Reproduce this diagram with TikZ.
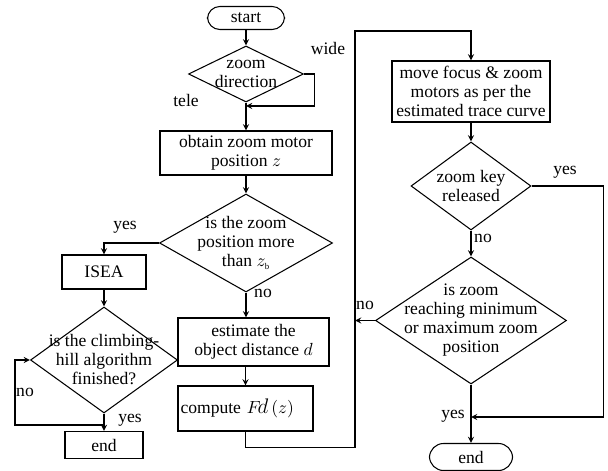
\documentclass[tikz,border=0pt]{standalone}
\usepackage{amsmath, amssymb}
\usepackage{fontspec}
\setmainfont{Liberation Serif}
\usetikzlibrary{shapes.geometric, positioning}

\begin{document}
\begin{tikzpicture}[
		% Process boxes
		procbox/.style={
			rectangle,
			draw,
			semithick,
			align=center,
			font=\fontsize{10}{10.8}\selectfont,
			inner sep=1pt
		},
		% Start / end boxes
		termbox/.style={
			procbox,
			rounded corners=7pt
		},
		% Decisions (fixed size, text may touch the border)
		decision/.style={
			diamond,
			draw,
			semithick,
			align=center,
			font=\fontsize{10}{10.8}\selectfont,
			inner sep=-6mm
		},
		% Connectors
		flowarrow/.style={
			->,
			>=stealth,
			semithick
		},
		% Branch labels
		labelstyle/.style={
			font=\fontsize{10}{10.8}\selectfont,
			inner sep=1pt
		}
		]
		\useasboundingbox (0,0) rectangle (12.16,-9.42);
		
		% --- MAIN COLUMN ---
		\node[termbox, minimum width=1.54cm, minimum height=0.46cm] (start) at (4.92,-0.36) {start};
		\node[decision, minimum width=2.3cm, minimum height=1.12cm] (dir) at (4.92,-1.48) {zoom\\direction};
		\node[procbox, minimum width=3.44cm, minimum height=0.88cm] (obtain) at (4.92,-3.06) {obtain zoom motor\\position $z$};
		\node[decision, minimum width=3.46cm, minimum height=1.96cm] (pos) at (4.92,-4.86) {is the zoom\\position more\\than $z_{\scriptscriptstyle\mathrm{b}}$};
		\node[procbox, minimum width=3.02cm, minimum height=0.96cm] (estim) at (5.07,-6.84) {estimate the\\object distance $d$};
		\node[procbox, minimum width=2.7cm, minimum height=0.9cm, text width=2.6cm, align=left] (comp) at (4.91,-8.17) {compute $F\!\text{\large$d$}\,(z)$};
		
		% --- LEFT COLUMN ---
		\node[procbox, minimum width=1.68cm, minimum height=0.68cm] (isea) at (2.08,-5.44) {ISEA};
		\node[decision, minimum width=2.94cm, minimum height=2.12cm] (climb) at (2.08,-7.2) {is the climbing-\\hill algorithm\\finished?};
		\node[procbox, minimum width=1.56cm, minimum height=0.54cm] (end1) at (2.08,-8.9) {end};
		
		% --- RIGHT COLUMN ---
		\node[procbox, minimum width=3.16cm, minimum height=1.22cm] (move) at (9.42,-1.83) {move focus \& zoom\\motors as per the\\estimated trace curve};
		\node[decision, minimum width=2.4cm, minimum height=1.76cm] (key) at (9.42,-3.72) {zoom key\\released};
		\node[decision, minimum width=3.82cm, minimum height=2.54cm] (reach) at (9.42,-6.41) {is zoom\\reaching minimum\\or maximum zoom\\position};
		\node[termbox, minimum width=1.66cm, minimum height=0.54cm, rounded corners=8pt] (end2) at (9.42,-9.14) {end};
		
		% --- JOINING POINTS ---
		\coordinate (tj) at (4.92,-2.12);
		\coordinate (cj) at (2.08,-8.5);
		\coordinate (rt) at (7.1,-0.62);
		\coordinate (yj) at (9.42,-8.34);
		
		% --- CONNECTORS ---
		\draw[flowarrow] (start) -- (dir);
		\draw[flowarrow] (dir.east) -- ++(0.2,0) |- (tj);
		\draw[flowarrow] (dir) -- (obtain);
		\draw[flowarrow] (obtain) -- (pos);
		\draw[flowarrow] (pos.west) -| (isea.north);
		\draw[flowarrow] (pos.south) -- (pos.south |- estim.north);
		\draw[flowarrow] (comp.north |- estim.south) -- (comp.north);
		\draw[flowarrow] (isea) -- (climb);
		\draw[flowarrow] (climb) -- (end1);
		\draw[flowarrow] (cj) -- ++(-1.78,0) |- (climb.west);
		\draw[flowarrow] (comp.south) -- ++(0,-0.32) -| (rt) -| (move.north);
		\draw[flowarrow] (move) -- (key);
		\draw[flowarrow] (key) -- (reach);
		\draw[flowarrow] (key.east) -- ++(1.44,0) |- (yj);
		\draw[flowarrow] (reach.west) -- (reach.west -| rt);
		\draw[flowarrow] (reach) -- (end2);
		
		% --- BRANCH LABELS ---
		\node[labelstyle] (lwide) at (6.56,-0.96) {wide};
		\node[labelstyle] (ltele) at (3.72,-2.0) {tele};
		\node[labelstyle] (lposy) at (2.5,-4.54) {yes};
		\node[labelstyle] (lposn) at (5.26,-5.86) {no};
		\node[labelstyle] (lclin) at (0.5,-7.84) {no};
		\node[labelstyle] (lcliy) at (2.6,-8.4) {yes};
		\node[labelstyle] (lkeyy) at (11.3,-3.44) {yes};
		\node[labelstyle] (lkeyn) at (9.66,-4.76) {no};
		\node[labelstyle] (lrean) at (7.3,-6.1) {no};
		\node[labelstyle] (lreay) at (9.06,-8.32) {yes};
		
	\end{tikzpicture}
\end{document}
